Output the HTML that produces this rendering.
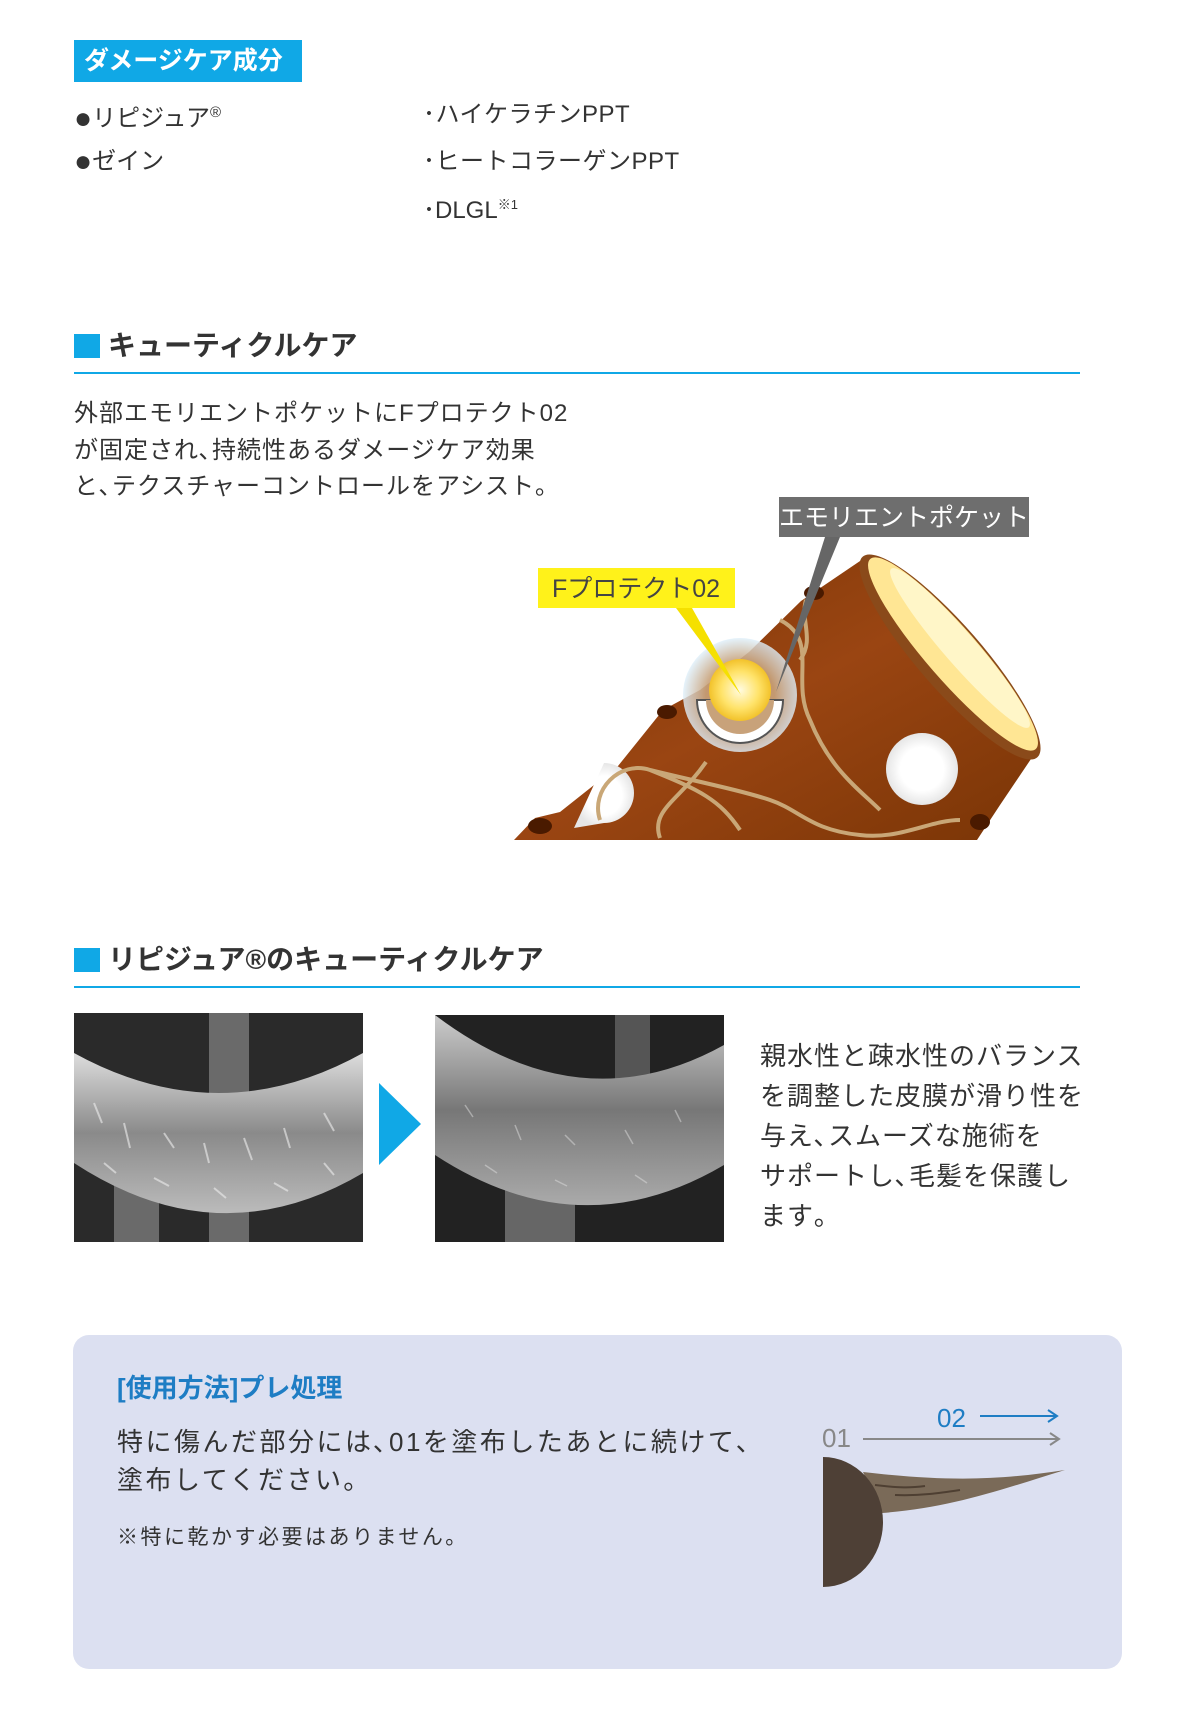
<!DOCTYPE html>
<html><head><meta charset="utf-8"><style>
*{margin:0;padding:0;box-sizing:border-box}
body{width:1200px;height:1717px;background:#fff;position:relative;font-family:"Liberation Sans","Noto Sans CJK JP",sans-serif;color:#333;overflow:hidden}
.a{position:absolute;white-space:nowrap}
.t24{font-size:24px;line-height:28px}
.b{font-size:30px;vertical-align:-2px}
</style></head><body>
<div class="a" style="left:74px;top:40px;width:228px;height:42px;background:#10a8e6;color:#fff;font-weight:bold;font-size:25px;line-height:42px;padding-left:10px">ダメージケア成分</div>
<div class="a t24" style="left:74px;top:99px"><span class="b">●</span>リピジュア<sup style="font-size:15px">®</sup></div>
<div class="a t24" style="left:74px;top:148px"><span class="b">●</span>ゼイン</div>
<div class="a t24" style="left:423px;top:101px;letter-spacing:.5px">･ハイケラチンPPT</div>
<div class="a t24" style="left:423px;top:148px;letter-spacing:.5px">･ヒートコラーゲンPPT</div>
<div class="a t24" style="left:423px;top:191px">･DLGL<sup style="font-size:13px">※1</sup></div>

<div class="a" style="left:74px;top:334px;width:26px;height:24px;background:#10a8e6"></div>
<div class="a" style="left:108px;top:330px;font-size:28px;font-weight:bold;line-height:32px">キューティクルケア</div>
<div class="a" style="left:74px;top:372px;width:1006px;height:2px;background:#10a8e6"></div>
<div class="a" style="left:74px;top:396px;font-size:24px;line-height:36.5px;letter-spacing:1px">外部エモリエントポケットにFプロテクト02<br>が固定され､持続性あるダメージケア効果<br>と､テクスチャーコントロールをアシスト｡</div>

<svg class="a" style="left:0;top:0" width="1200" height="900" viewBox="0 0 1200 900">
<defs>
<linearGradient id="br" x1="0" y1="0" x2="1" y2="1"><stop offset="0" stop-color="#7a3506"/><stop offset=".5" stop-color="#9a4512"/><stop offset="1" stop-color="#7a3506"/></linearGradient>
<radialGradient id="yl"><stop offset="0" stop-color="#fffbe0"/><stop offset=".6" stop-color="#ffe36a"/><stop offset="1" stop-color="#f2c22a"/></radialGradient>
<radialGradient id="gl"><stop offset=".6" stop-color="#c8a27a" stop-opacity=".9"/><stop offset="1" stop-color="#dff0fb" stop-opacity=".8"/></radialGradient>
<radialGradient id="ho"><stop offset=".6" stop-color="#fff"/><stop offset="1" stop-color="#e6e6e6"/></radialGradient>
</defs>
<path d="M514,840 L535,818 L560,812 L618,766 L663,710 L700,690 L749,652 L801,601 L863,559 L1033,756 L1000,805 L977,840 Z" fill="url(#br)"/>
<ellipse cx="540" cy="826" rx="12" ry="8" fill="#4a1a00"/>
<ellipse cx="667" cy="712" rx="10" ry="7" fill="#4a1a00"/>
<ellipse cx="814" cy="593" rx="10" ry="7" fill="#4a1a00"/>
<ellipse cx="980" cy="822" rx="10" ry="8" fill="#4a1a00"/>
<ellipse cx="950" cy="657" rx="32" ry="133" transform="rotate(-41 950 657)" fill="#8a4a1a"/>
<ellipse cx="953" cy="654" rx="26" ry="126" transform="rotate(-41 953 654)" fill="#ffe694"/>
<ellipse cx="960" cy="648" rx="16" ry="105" transform="rotate(-41 960 648)" fill="#fff6c8"/>
<circle cx="922" cy="769" r="36" fill="url(#ho)"/>
<path d="M604,763 a30,30 0 0 1 0,60 l-30,5 z" fill="url(#ho)"/>
<path d="M600,820 C590,790 620,760 650,770 C700,790 720,800 740,830 M650,770 C690,780 740,790 770,800 C800,810 810,830 860,835 C900,840 930,820 960,820 M780,620 C820,640 790,680 810,720 C830,770 860,790 880,810 M706,762 C680,800 650,810 660,838 M806,600 C800,620 815,640 800,660" fill="none" stroke="#c9a777" stroke-width="4"/>
<circle cx="740" cy="695" r="57" fill="url(#gl)"/>
<path d="M697,700 a43,43 0 0 0 86,0 z" fill="#fff" stroke="#555" stroke-width="2"/>
<path d="M706,700 a34,34 0 0 0 68,0 z" fill="#c8a27a"/>
<circle cx="740" cy="690" r="31" fill="url(#yl)"/>
<polygon points="676,608 692,608 741,695" fill="#f5e000"/>
<polygon points="825,537 840,537 776,692" fill="#666"/>
<rect x="779" y="497" width="250" height="40" fill="#6e6e6e"/>
<text x="904" y="526" fill="#fff" font-size="25" text-anchor="middle" font-family="Liberation Sans,Noto Sans CJK JP,sans-serif">エモリエントポケット</text>
<rect x="538" y="568" width="197" height="40" fill="#fff21a"/>
<text x="636" y="597" fill="#444" font-size="25" text-anchor="middle" font-family="Liberation Sans,Noto Sans CJK JP,sans-serif">Fプロテクト02</text>
</svg>

<div class="a" style="left:74px;top:948px;width:26px;height:24px;background:#10a8e6"></div>
<div class="a" style="left:108px;top:944px;font-size:28px;font-weight:bold;line-height:32px">リピジュア®のキューティクルケア</div>
<div class="a" style="left:74px;top:986px;width:1006px;height:2px;background:#10a8e6"></div>

<svg class="a" style="left:74px;top:1013px" width="289" height="229" viewBox="0 0 289 229">
<defs><linearGradient id="p1" x1="0" y1="0" x2="0" y2="1"><stop offset="0" stop-color="#ddd"/><stop offset=".5" stop-color="#8a8a8a"/><stop offset="1" stop-color="#bbb"/></linearGradient></defs>
<rect width="289" height="229" fill="#2a2a2a"/>
<rect x="135" y="0" width="40" height="229" fill="#6a6a6a"/><rect x="40" y="150" width="45" height="79" fill="#6a6a6a"/>
<path d="M0,40 Q145,120 289,40 L289,160 Q145,245 0,150 Z" fill="url(#p1)"/>
<path d="M20,90 l8,20 M50,110 l6,25 M90,120 l10,15 M130,130 l5,20 M170,125 l8,22 M210,115 l6,20 M250,100 l10,18 M30,150 l12,10 M80,165 l15,8 M140,175 l12,10 M200,170 l14,8 M250,150 l10,12" stroke="#eee" stroke-width="2" opacity=".6"/>
</svg>
<svg class="a" style="left:379px;top:1083px" width="42" height="82"><polygon points="0,0 42,41 0,82" fill="#10a8e6"/></svg>
<svg class="a" style="left:435px;top:1015px" width="289" height="227" viewBox="0 0 289 227">
<defs><linearGradient id="p2" x1="0" y1="0" x2="0" y2="1"><stop offset="0" stop-color="#ccc"/><stop offset=".5" stop-color="#777"/><stop offset="1" stop-color="#aaa"/></linearGradient></defs>
<rect width="289" height="227" fill="#222"/>
<rect x="180" y="0" width="35" height="100" fill="#555"/><rect x="70" y="170" width="70" height="57" fill="#666"/>
<path d="M0,0 Q145,110 289,30 L289,150 Q145,235 0,140 Z" fill="url(#p2)"/>
<path d="M30,90 l8,12 M80,110 l6,15 M130,120 l10,10 M190,115 l8,14 M240,95 l6,12 M50,150 l12,8 M120,165 l12,6 M200,160 l12,8" stroke="#ddd" stroke-width="1.5" opacity=".5"/>
</svg>
<div class="a" style="left:760px;top:1036px;font-size:26px;line-height:40px;letter-spacing:1px">親水性と疎水性のバランス<br>を調整した皮膜が滑り性を<br>与え､スムーズな施術を<br>サポートし､毛髪を保護し<br>ます｡</div>

<div class="a" style="left:73px;top:1335px;width:1049px;height:334px;background:#dce0f1;border-radius:16px"></div>
<div class="a" style="left:117px;top:1373px;font-size:26px;font-weight:bold;color:#1e7dc4;line-height:30px">[使用方法]プレ処理</div>
<div class="a" style="left:117px;top:1423px;font-size:26px;line-height:38px;letter-spacing:2.5px">特に傷んだ部分には､01を塗布したあとに続けて､<br>塗布してください｡</div>
<div class="a" style="left:117px;top:1525px;font-size:21px;line-height:26px;letter-spacing:2.5px">※特に乾かす必要はありません｡</div>
<svg class="a" style="left:800px;top:1400px" width="280" height="200" viewBox="0 0 280 200">
<text x="137" y="27" font-size="26" fill="#1e7dc4" font-family="Liberation Sans,sans-serif">02</text>
<path d="M180,16 H257 M248,10 L257,16 L248,22" stroke="#1e7dc4" stroke-width="2" fill="none"/>
<text x="22" y="47" font-size="26" fill="#888" font-family="Liberation Sans,sans-serif">01</text>
<path d="M63,39 H259 M250,33 L259,39 L250,45" stroke="#888" stroke-width="2" fill="none"/>
<path d="M63,72 C150,82 200,80 265,70 C200,90 150,108 82,113 Z" fill="#7a6a58"/>
<path d="M75,85 C100,88 110,88 125,86 M95,95 C120,96 140,93 160,90" stroke="#4e3f32" stroke-width="2" fill="none"/>
<path d="M23,57 A60,65 0 0 1 23,187 Z" fill="#4e4036"/>
</svg>
</body></html>
